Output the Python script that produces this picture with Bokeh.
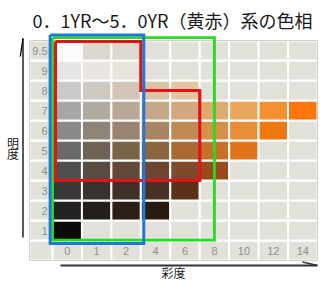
from bokeh.plotting import figure
from bokeh.models import Range1d, Label, ColumnDataSource
from bokeh.embed import file_html
from bokeh.resources import INLINE
from bokeh.core.properties import value

# ---------------- data ----------------
title_text = "0．1YR～5．0YR（黄赤）系の色相"
chroma_labels = ["0", "1", "2", "4", "6", "8", "10", "12", "14"]
value_labels = ["1", "2", "3", "4", "5", "6", "7", "8", "9", "9.5"]   # rows 1..10 bottom->top

# cell colours for each value row, from chroma 0 upward (missing = empty)
row_1 = ["#0a0a0a"]
row_2 = ["#222222", "#221e1a", "#2a1e16", "#2a1b11"]
row_3 = ["#383838", "#3a322c", "#413029", "#4a3022", "#5c3119"]
row_4 = ["#4f4f4f", "#584c42", "#62483a", "#6d4430", "#7e4a2b", "#9b4a1c"]
row_5 = ["#6a6a6a", "#6e6254", "#7a6448", "#8a653e", "#a86a34", "#c87028", "#e07418"]
row_6 = ["#898989", "#8e8478", "#988470", "#a98563", "#c08a57", "#d88f47", "#e88e36", "#f07810"]
row_7 = ["#a7a7a7", "#b0aaa2", "#b9a897", "#c5a687", "#d4a87c", "#e0a96e", "#eca65a", "#f4902e", "#fb760c"]
row_8 = ["#c9c9c9", "#cfc8c0", "#d3c6b8", "#dcc3a6", "#e2c6a2"]
row_9 = ["#e5e5e5", "#e8e6df", "#e9e4db"]
row_9_5 = ["#fbfbfb", "#dbd8cd", "#ddd9ce"]
rows = [row_1, row_2, row_3, row_4, row_5, row_6, row_7, row_8, row_9, row_9_5]

# highlighted regions (column index / row index units)
red_x = [-0.4, 2.5, 2.5, 4.5, 4.5, -0.4, -0.4]
red_y = [10.45, 10.45, 8.0, 8.0, 3.5, 3.5, 10.45]
blue_x = [-0.58, 2.6, 2.6, -0.58, -0.58]
blue_y = [10.77, 10.77, 0.35, 0.35, 10.77]
green_x = [-0.5, 5.0, 5.0, -0.5, -0.5]
green_y = [10.64, 10.64, 0.52, 0.52, 10.64]

# ---------------- layout ----------------
W, H = 318, 282
GX0, GY0 = 52, 40             # px of first data column left / top row top
CW = (317 - GX0) / 9          # cell width px
RH = 20.0                     # row height px
LABW = 23                     # label column width px
EMPTY = "#e2e1d9"


def dx(px):
    return -0.5 + (px - GX0) / CW


def dy(py):
    return 10.5 - (py - GY0) / RH


p = figure(width=W, height=H, output_backend="svg", toolbar_location=None,
           x_range=Range1d(dx(0), dx(W)), y_range=Range1d(dy(H), dy(0)),
           x_axis_location=None, y_axis_location=None, min_border=0)
p.grid.visible = False
p.outline_line_color = None
p.background_fill_color = "white"
p.border_fill_color = "white"

lab_w = LABW / CW
lab_cx = -0.5 - lab_w / 2

# grid cells
cx, cy, cw, cc = [], [], [], []
for r in range(0, 11):
    cx.append(lab_cx); cy.append(r); cw.append(lab_w); cc.append(EMPTY)
    for c in range(9):
        col = EMPTY
        if r >= 1 and c < len(rows[r - 1]):
            col = rows[r - 1][c]
        cx.append(c); cy.append(r); cw.append(1.0); cc.append(col)
src = ColumnDataSource(dict(x=cx, y=cy, w=cw, c=cc))
p.rect(x="x", y="y", width="w", height=1.0, fill_color="c", line_color="white",
       line_width=2, source=src)
# outer border
p.rect(x=[(-0.5 - lab_w + 8.5) / 2], y=[5.0], width=[9 + lab_w], height=[11],
       fill_color=None, line_color="#cfcfc6", line_width=1)

# labels in grid
p.text(x=[dx(47)] * 10, y=list(range(1, 11)), text=value_labels,
       text_align="right", text_baseline="middle", text_font=value("Liberation Sans"),
       text_font_size="11px", text_color="#8e8e8e")
p.text(x=list(range(9)), y=[0] * 9, text=chroma_labels,
       text_align="center", text_baseline="middle", text_font=value("Liberation Sans"),
       text_font_size="11px", text_color="#8e8e8e")

# highlight outlines
p.line(green_x, green_y, line_color="#22dd22", line_width=2.8, line_join="miter")
p.line(red_x, red_y, line_color="#e01414", line_width=3.2, line_join="miter")
p.line(blue_x, blue_y, line_color="#1e78dc", line_width=3, line_join="miter")

# axis arrows
p.line([dx(22.5), dx(22.5)], [dy(237), dy(38)], line_color="black", line_width=1.3)
p.line([dx(22.5), dx(19.8)], [dy(38), dy(56)], line_color="black", line_width=1.3)
p.line([dx(60), dx(317)], [dy(265), dy(265)], line_color="#333333", line_width=2)
p.line([dx(317), dx(302)], [dy(265), dy(261.5)], line_color="#333333", line_width=1.3)

font = "Noto Sans CJK JP"
p.add_layout(Label(x=dx(32), y=dy(19), text=title_text, text_align="left",
                   text_baseline="middle", text_font=font, text_font_size="18px",
                   text_color="#1a1a1a"))
p.add_layout(Label(x=dx(173), y=dy(271.5), text="彩度", text_align="center",
                   text_baseline="middle", text_font=font, text_font_size="12px",
                   text_color="#1a1a1a"))
p.add_layout(Label(x=dx(12.5), y=dy(141.5), text="明", text_align="center",
                   text_baseline="middle", text_font=font, text_font_size="12px",
                   text_color="#1a1a1a"))
p.add_layout(Label(x=dx(12.5), y=dy(152.5), text="度", text_align="center",
                   text_baseline="middle", text_font=font, text_font_size="12px",
                   text_color="#1a1a1a"))

open("out.html", "w").write(file_html(p, INLINE))
